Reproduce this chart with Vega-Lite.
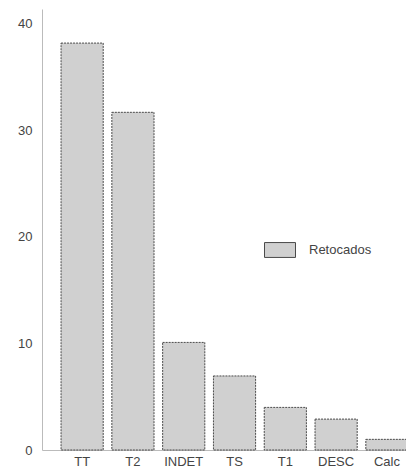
{
  "$schema": "https://vega.github.io/schema/vega-lite/v6.json",
  "width": 366,
  "height": 441,
  "padding": {"left": 17, "top": 9, "right": 0, "bottom": 2},
  "background": "white",
  "config": {
    "view": {"stroke": null},
    "font": "Liberation Sans"
  },
  "data": {
    "values": [
      {"cat": "TT", "value": 38.2, "serie": "Retocados"},
      {"cat": "T2", "value": 31.7, "serie": "Retocados"},
      {"cat": "INDET", "value": 10.1, "serie": "Retocados"},
      {"cat": "TS", "value": 6.95, "serie": "Retocados"},
      {"cat": "T1", "value": 4.0, "serie": "Retocados"},
      {"cat": "DESC", "value": 2.9, "serie": "Retocados"},
      {"cat": "Calc", "value": 1.0, "serie": "Retocados"}
    ]
  },
  "mark": {"type": "bar", "stroke": "#4a4a4a", "strokeWidth": 1, "strokeDash": [2, 1]},
  "encoding": {
    "x": {
      "field": "cat",
      "type": "nominal",
      "sort": null,
      "scale": {"paddingInner": 0.17, "paddingOuter": 0.1875, "align": 1},
      "axis": {
        "title": null,
        "labelAngle": 0,
        "ticks": false,
        "labelPadding": 5,
        "labelFontSize": 13,
        "labelColor": "#444444",
        "domainColor": "#bbbbbb",
        "grid": false
      }
    },
    "y": {
      "field": "value",
      "type": "quantitative",
      "scale": {"domain": [0, 41.4], "nice": false},
      "axis": {
        "title": null,
        "values": [0, 10, 20, 30, 40],
        "ticks": false,
        "grid": false,
        "labelPadding": 10,
        "labelFontSize": 13,
        "labelColor": "#444444",
        "domainColor": "#bbbbbb"
      }
    },
    "fill": {
      "field": "serie",
      "type": "nominal",
      "scale": {"range": ["#d0d0d0"]},
      "legend": {
        "title": null,
        "orient": "none",
        "legendX": 222,
        "legendY": 225,
        "padding": 0,
        "symbolType": "M-1,-0.48H1V0.48H-1Z",
        "symbolSize": 961,
        "symbolStrokeColor": "#4a4a4a",
        "symbolStrokeWidth": 1,
        "symbolFillColor": "#d0d0d0",
        "labelFontSize": 13,
        "labelColor": "#444444",
        "labelOffset": 13
      }
    }
  }
}
